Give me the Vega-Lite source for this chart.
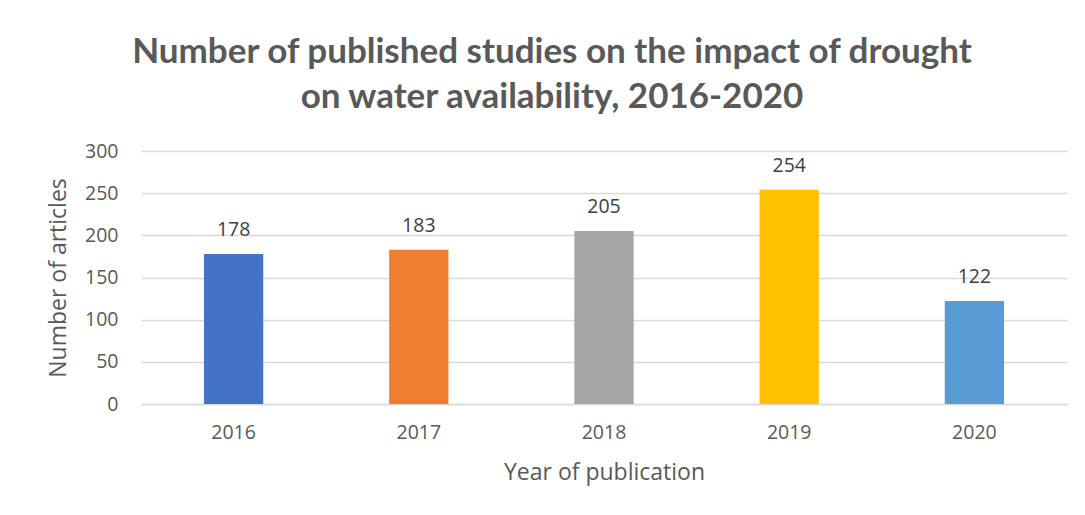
{
  "$schema": "https://vega.github.io/schema/vega-lite/v6.json",
  "width": 926,
  "height": 253,
  "autosize": {"type": "none"},
  "padding": {"left": 141, "top": 151, "right": 18, "bottom": 111},
  "background": "white",
  "title": {
    "text": ["Number of published studies on the impact of drought", "on water availability, 2016-2020"],
    "font": "Lato",
    "fontSize": 35,
    "fontWeight": "bold",
    "color": "#595959",
    "anchor": "middle",
    "dx": -52,
    "offset": 26,
    "lineHeight": 45
  },
  "data": {
    "values": [
      {"year": "2016", "articles": 178, "color": "#4472C4"},
      {"year": "2017", "articles": 183, "color": "#ED7D31"},
      {"year": "2018", "articles": 205, "color": "#A5A5A5"},
      {"year": "2019", "articles": 254, "color": "#FFC000"},
      {"year": "2020", "articles": 122, "color": "#5B9BD5"}
    ]
  },
  "encoding": {
    "x": {
      "field": "year",
      "type": "nominal",
      "sort": null,
      "scale": {"paddingInner": 0.68, "paddingOuter": 0.34},
      "axis": {
        "title": "Year of publication",
        "labelAngle": 0,
        "ticks": false,
        "domainColor": "#d9d9d9",
        "domainWidth": 1.5,
        "labelPadding": 19,
        "titlePadding": 20
      }
    },
    "y": {
      "field": "articles",
      "type": "quantitative",
      "scale": {"domain": [0, 300]},
      "axis": {
        "title": "Number of articles",
        "values": [0, 50, 100, 150, 200, 250, 300],
        "ticks": false,
        "domain": false,
        "gridColor": "#d9d9d9",
        "gridWidth": 1.3,
        "labelPadding": 23,
        "titlePadding": 14
      }
    }
  },
  "layer": [
    {
      "mark": {"type": "bar"},
      "encoding": {
        "color": {"field": "color", "type": "nominal", "scale": null}
      }
    },
    {
      "mark": {"type": "text", "baseline": "alphabetic", "dy": -18, "font": "Open Sans", "fontSize": 19.5, "color": "#404040"},
      "encoding": {"text": {"field": "articles", "type": "quantitative"}}
    }
  ],
  "config": {
    "view": {"stroke": null},
    "axis": {
      "labelFont": "Open Sans",
      "labelFontSize": 19.5,
      "labelColor": "#595959",
      "titleFont": "Open Sans",
      "titleFontSize": 23,
      "titleFontWeight": "normal",
      "titleColor": "#595959"
    }
  }
}
